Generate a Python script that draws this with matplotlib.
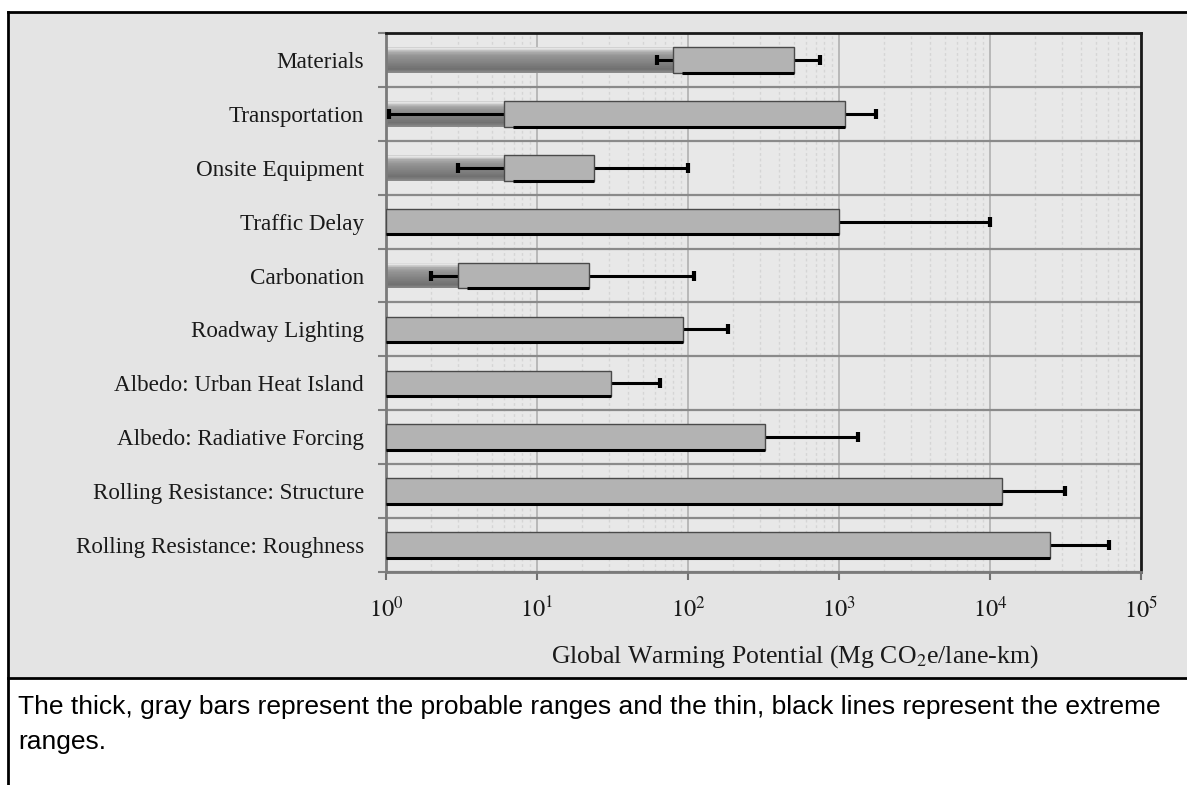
import numpy as np
import matplotlib
matplotlib.use("Agg")
import matplotlib.pyplot as plt
from matplotlib.patches import Rectangle
from matplotlib.lines import Line2D

plt.rcParams['mathtext.fontset'] = 'stix'

categories = ['Materials', 'Transportation', 'Onsite Equipment', 'Traffic Delay',
              'Carbonation', 'Roadway Lighting', 'Albedo: Urban Heat Island',
              'Albedo: Radiative Forcing', 'Rolling Resistance: Structure',
              'Rolling Resistance: Roughness']
prob_low = [80, 6, 6, 1, 3, 1, 1, 1, 1, 1]
prob_high = [500, 1100, 24, 1000, 22, 92, 31, 325, 12000, 25000]
ext_low = [62, 1.05, 3, np.nan, 2, np.nan, np.nan, np.nan, np.nan, np.nan]
ext_high = [750, 1750, 100, 10000, 110, 185, 65, 1330, 31500, 61000]
xticks = [1, 10, 100, 1000, 10000, 100000]
xticklabels = [r'$\mathrm{10^{0}}$', r'$\mathrm{10^{1}}$', r'$\mathrm{10^{2}}$',
               r'$\mathrm{10^{3}}$', r'$\mathrm{10^{4}}$', r'$\mathrm{10^{5}}$']
xlabel = r'Global Warming Potential (Mg CO$_2$e/lane-km)'
caption1 = 'The thick, gray bars represent the probable ranges and the thin, black lines represent the extreme'
caption2 = 'ranges.'

W, H = 1187, 785
fig = plt.figure(figsize=(W / 100, H / 100), dpi=100)
fig.patch.set_facecolor('white')

# gray panel and frame lines
fig.patches.append(Rectangle((10 / W, 1 - 677 / H), 1 - 10 / W, (677 - 12) / H,
                             transform=fig.transFigure, facecolor='#e4e4e4',
                             edgecolor='none', zorder=-5))
for xs, ys in [([8 / W, 1], [1 - 12 / H, 1 - 12 / H]),
               ([8 / W, 8 / W], [0, 1 - 12 / H]),
               ([8 / W, 1], [1 - 677.5 / H, 1 - 677.5 / H])]:
    fig.lines.append(Line2D(xs, ys, transform=fig.transFigure, color='black', lw=2,
                            zorder=-4))

ax = fig.add_axes([386 / W, 1 - 572 / H, (1141 - 386) / W, (572 - 33) / H])
ax.set_zorder(2)
ax.set_facecolor('#e8e8e8')
ax.set_xscale('log')
ax.set_xlim(1, 1e5)
n = len(categories)
ax.set_ylim(n - 0.5, -0.5)

h = 0.475
y = np.arange(n)

# gradient for the low (dark) portion
stops_t = [0.0, 0.06, 0.18, 0.35, 0.85, 1.0]
stops_g = [0.80, 0.90, 0.68, 0.58, 0.44, 0.55]
nrow = 40
tt = (np.arange(nrow) + 0.5) / nrow
grad = np.interp(tt, stops_t, stops_g).reshape(-1, 1)

for i in range(n):
    c = y[i]
    lo, hi = prob_low[i], prob_high[i]
    if lo > 1:
        X = np.array([1, lo])
        Y = np.linspace(c - h / 2, c + h / 2, nrow + 1)
        ax.pcolormesh(X, Y, grad, cmap='gray', vmin=0, vmax=1, shading='flat',
                      zorder=2, edgecolors='none')
    # extreme range line segments
    if not np.isnan(ext_low[i]):
        ax.plot([ext_low[i], lo], [c, c], color='black', lw=2.2, zorder=3,
                solid_capstyle='butt')
        ax.plot([ext_low[i]], [c], marker='|', ms=7, mew=3, color='black', zorder=3)
    ax.plot([hi, ext_high[i]], [c, c], color='black', lw=2.2, zorder=3,
            solid_capstyle='butt')
    ax.plot([ext_high[i]], [c], marker='|', ms=7, mew=3, color='black', zorder=3)
    # probable range bar
    ax.barh(c, hi - lo, left=lo, height=h, color='#b3b3b3', edgecolor='#4a4a4a',
            linewidth=1.0, zorder=4)
    sh_start = lo * 10 ** (9 / 151) if lo > 1 else lo
    ax.plot([sh_start, hi], [c + h / 2, c + h / 2], color='black', lw=2.2, zorder=5,
            solid_capstyle='butt')

# y ticks: boundaries (major, with grid) and labels at centers (minor)
ax.set_yticks(np.arange(n + 1) - 0.5)
ax.set_yticklabels([])
ax.set_yticks(y, minor=True)
ax.set_yticklabels(categories, minor=True, fontfamily='Liberation Serif', fontsize=16.7,
                   color='#1a1a1a')
ax.tick_params(axis='y', which='major', length=6, width=1.5, color='#808080', direction='out')
ax.tick_params(axis='y', which='minor', length=0, pad=16)

# x ticks
ax.set_xticks(xticks)
ax.set_xticklabels(xticklabels, fontsize=17.5, color='#1a1a1a')
ax.tick_params(axis='x', which='major', length=6, width=1.5, color='#707070',
               direction='out', pad=12)
ax.tick_params(axis='x', which='minor', length=0)

ax.grid(True, axis='y', which='major', color='#8a8a8a', lw=1.6, zorder=1)
ax.grid(True, axis='x', which='major', color='#b0b0b0', lw=1.2, zorder=1)
ax.grid(True, axis='x', which='minor', color='#d5d5d5', lw=1.0, ls=(0, (2, 2)), zorder=1)
ax.set_axisbelow(True)

for s in ['left', 'bottom']:
    ax.spines[s].set_color('#7a7a7a')
    ax.spines[s].set_linewidth(2)
for s in ['top', 'right']:
    ax.spines[s].set_color('#1a1a1a')
    ax.spines[s].set_linewidth(2)

fig.text(795 / W, 1 - 657 / H, xlabel, ha='center', va='center',
         fontfamily='Liberation Serif', fontsize=18.5, color='#1a1a1a')

fig.text(18 / W, 1 - 707 / H, caption1, ha='left', va='center',
         fontfamily='Liberation Sans', fontsize=19, color='black')
fig.text(18 / W, 1 - 742 / H, caption2, ha='left', va='center',
         fontfamily='Liberation Sans', fontsize=19, color='black')

fig.savefig('out.png', dpi=100)
